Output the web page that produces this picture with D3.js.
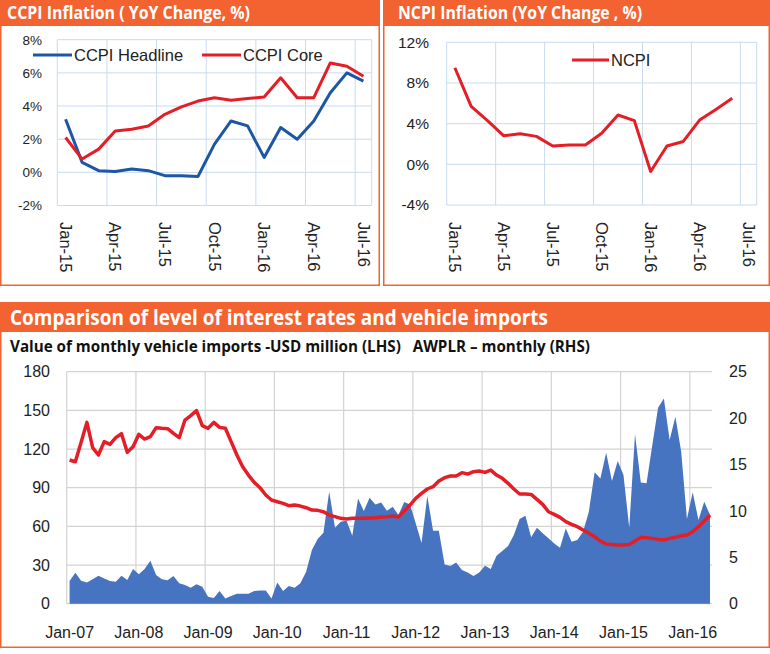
<!DOCTYPE html>
<html><head><meta charset="utf-8">
<script src="https://cdn.jsdelivr.net/npm/d3@7"></script>
<style>body{margin:0;background:#fff}</style>
</head><body><svg id="c" width="770" height="654"></svg>
<script>
// ---------- DATA ----------
const months19 = ["Jan-15","Feb-15","Mar-15","Apr-15","May-15","Jun-15","Jul-15","Aug-15","Sep-15","Oct-15","Nov-15","Dec-15","Jan-16","Feb-16","Mar-16","Apr-16","May-16","Jun-16","Jul-16"];
const monthTickLabels = ["Jan-15","Apr-15","Jul-15","Oct-15","Jan-16","Apr-16","Jul-16"];
const ccpiHeadline = [3.2,0.6,0.1,0.05,0.2,0.1,-0.2,-0.2,-0.25,1.7,3.1,2.8,0.9,2.7,2.0,3.1,4.8,6.0,5.5];
const ccpiCore     = [2.1,0.8,1.4,2.5,2.6,2.8,3.5,3.95,4.3,4.5,4.35,4.45,4.55,5.7,4.5,4.5,6.6,6.4,5.8];
const ncpi         = [9.5,5.7,4.3,2.8,3.0,2.75,1.8,1.9,1.9,3.05,4.85,4.3,-0.7,1.8,2.25,4.35,5.4,6.5];
const ccpiTicks = [-2,0,2,4,6,8];
const ncpiTicks = [-4,0,4,8,12];

const importStart = new Date(2007,0,1), importEnd = new Date(2016,4,1);
const importYearLabels = ["Jan-07","Jan-08","Jan-09","Jan-10","Jan-11","Jan-12","Jan-13","Jan-14","Jan-15","Jan-16"];
const vehicleImports = [17.6,24,17.8,16.5,19,21.7,19.6,17.6,17,21.7,18.4,27,
 22.8,27,33.4,22.2,18.9,18.1,21.5,15.8,14.5,12.4,15,13.2,
 5.4,4.4,9.8,4.1,6,7.8,7.8,7.8,9.8,10.3,10.3,4.1,
 16.5,9.8,13.7,12.4,15.8,24.8,41.6,50.2,55,87,59,63.6,
 64.4,52.8,81.7,71.9,82.2,77,78.6,72.1,75.2,68.8,79,77,
 62.3,47,83.5,56.6,56.6,30.5,29.2,32,26.1,24.3,21.5,24.3,
 29.5,26.9,37.2,40.9,44.7,53.3,65.7,68.3,51.5,59,54.6,50.7,
 46.8,43.4,58.4,48.1,49.4,55.9,71.4,101.9,97.2,117.1,95.2,110.7,
 99.8,59,131.6,94.1,93.4,123.1,152,159.3,127,145,118,65.7,
 86.4,64.9,79.1,68.8];
const awplr = [15.48,15.3,17.4,19.54,16.81,16.02,17.46,17.17,17.89,18.32,16.31,16.92,
 18.25,17.74,18.0,18.97,18.9,18.86,18.36,17.89,19.79,20.26,20.8,19.18,
 18.9,19.54,19.0,18.9,17.46,16.02,14.76,13.86,13.07,12.5,11.71,11.17,
 10.99,10.81,10.56,10.63,10.52,10.34,10.09,10.06,9.91,9.55,9.38,9.2,
 9.12,9.2,9.2,9.2,9.23,9.27,9.34,9.38,9.45,9.34,10.0,10.63,
 11.35,11.89,12.36,12.61,13.22,13.58,13.76,13.76,14.12,13.97,14.22,14.3,
 14.15,14.4,13.86,13.51,12.97,12.36,11.82,11.82,11.78,11.24,10.7,9.91,
 9.63,9.3,8.84,8.55,8.3,7.94,7.58,7.22,6.75,6.43,6.39,6.32,
 6.32,6.39,6.75,7.15,7.11,7.04,6.93,6.86,7.04,7.15,7.33,7.4,
 7.76,8.3,8.91,9.55];
const lhsTicks = [0,30,60,90,120,150,180];
const rhsTicks = [0,5,10,15,20,25];

// ---------- STYLE ----------
const ORANGE = "#f26331", BLUE_LINE = "#1d56a3", RED = "#e31e27", AREA = "#4674c1";
const GRID_TOP = "#c9dbef", GRID_BOT = "#d3d3d3";
const FONT = "'Liberation Sans', Arial, sans-serif";
const TFONT = "'Open Sans', 'Liberation Sans', sans-serif";

const svg = d3.select("#c");

function panel(x, y, w, h, hh, title, tx, tw, fs) {
  svg.append("rect").attr("x", x+0.75).attr("y", y+0.75).attr("width", w-1.5).attr("height", h-1.5)
    .attr("fill", "#fff").attr("stroke", ORANGE).attr("stroke-width", 1.5);
  svg.append("rect").attr("x", x).attr("y", y).attr("width", w).attr("height", hh).attr("fill", ORANGE);
  svg.append("text").attr("x", tx).attr("y", y + hh/2).attr("dy", "0.36em")
    .attr("font-family", TFONT).attr("font-weight", "bold").attr("font-size", fs)
    .attr("fill", "#fff").attr("textLength", tw).attr("lengthAdjust", "spacingAndGlyphs").text(title);
}

panel(0, 0, 380, 286, 26, "CCPI Inflation ( YoY Change, %)", 7, 243, 17.5);
panel(383, 0, 387, 286, 26, "NCPI Inflation (YoY Change , %)", 398, 244, 17.5);
panel(0, 302, 770, 346, 30, "Comparison of level of interest rates and vehicle imports", 10, 538, 21);

// ---------- small inflation charts ----------
function smallChart(opt) {
  const g = svg.append("g");
  const x = d3.scaleBand().domain(months19).range([opt.x0, opt.x1]);
  const y = d3.scaleLinear().domain(opt.ydom).range([opt.yb, opt.yt]);
  g.selectAll(".hg").data(opt.ticks).enter().append("line")
    .attr("x1", opt.x0).attr("x2", opt.x1).attr("y1", d => y(d)).attr("y2", d => y(d))
    .attr("stroke", GRID_TOP).attr("stroke-width", 1);
  const vIdx = months19.map((m,i)=>i).filter(i => i % 3 === 0);
  g.selectAll(".vg").data(vIdx).enter().append("line")
    .attr("x1", i => x(months19[i])).attr("x2", i => x(months19[i]))
    .attr("y1", opt.yt).attr("y2", opt.yb).attr("stroke", GRID_TOP).attr("stroke-width", 1);
  g.append("line").attr("x1", opt.x1).attr("x2", opt.x1).attr("y1", opt.yt).attr("y2", opt.yb)
    .attr("stroke", GRID_TOP).attr("stroke-width", 1);
  const ya = g.append("g").attr("transform", `translate(${opt.ylabX},0)`)
    .call(d3.axisLeft(y).tickValues(opt.ticks).tickSize(0).tickPadding(0).tickFormat(d => d + "%"));
  ya.select(".domain").remove();
  ya.selectAll("text").attr("font-family", FONT).attr("font-size", opt.yfs).attr("fill", "#222");
  const xa = g.append("g").attr("transform", `translate(0,${opt.xlabY})`)
    .call(d3.axisBottom(x).tickValues(monthTickLabels).tickSize(0).tickPadding(0));
  xa.select(".domain").remove();
  xa.selectAll("text").attr("font-family", FONT).attr("font-size", 16.5).attr("fill", "#222")
    .attr("transform", "rotate(90)").attr("text-anchor", "start").attr("x", 0).attr("y", 0).attr("dy", "0.35em");
  const line = d3.line().x((d,i) => x(months19[i]) + x.bandwidth()/2).y(d => y(d));
  opt.series.forEach(s => {
    g.append("path").datum(s.values).attr("d", line).attr("fill", "none")
      .attr("stroke", s.color).attr("stroke-width", 3).attr("stroke-linejoin", "round");
  });
  opt.legend.forEach(l => {
    g.append("line").attr("x1", l.x).attr("x2", l.x + l.len).attr("y1", l.y).attr("y2", l.y)
      .attr("stroke", l.color).attr("stroke-width", 3);
    g.append("text").attr("x", l.x + l.len + 2).attr("y", l.y).attr("dy", "0.36em")
      .attr("font-family", FONT).attr("font-size", 16.5).attr("fill", "#222").text(l.label);
  });
}

smallChart({
  x0: 57.3, x1: 371.7, yt: 39.7, yb: 205.5, ydom: [-2, 8], ticks: ccpiTicks,
  ylabX: 42, yfs: 13.5, xlabY: 222,
  series: [{values: ccpiHeadline, color: BLUE_LINE}, {values: ccpiCore, color: RED}],
  legend: [{x: 33, len: 39, y: 55, color: BLUE_LINE, label: "CCPI Headline"},
           {x: 202, len: 39, y: 55, color: RED, label: "CCPI Core"}]
});
smallChart({
  x0: 446.7, x1: 756.7, yt: 42.3, yb: 205, ydom: [-4, 12], ticks: ncpiTicks,
  ylabX: 429, yfs: 15.5, xlabY: 222,
  series: [{values: ncpi, color: RED}],
  legend: [{x: 572, len: 37, y: 60, color: RED, label: "NCPI"}]
});

// ---------- bottom chart ----------
svg.append("text").attr("x", 10).attr("y", 346).attr("dy", "0.36em")
  .attr("font-family", TFONT).attr("font-weight", "bold").attr("font-size", 15.5).attr("fill", "#111")
  .attr("textLength", 580).attr("lengthAdjust", "spacingAndGlyphs")
  .text("Value of monthly vehicle imports -USD million (LHS)\u00a0\u00a0\u00a0AWPLR \u2013 monthly (RHS)");

const dates = d3.timeMonth.range(importStart, importEnd);
const fmt = d3.timeFormat("%b-%y");
const bx = d3.scaleBand().domain(dates.map(fmt)).range([66.7, 712.9]);
const yL = d3.scaleLinear().domain([0, 180]).range([603.7, 371.7]);
const yR = d3.scaleLinear().domain([0, 25]).range([603.7, 371.7]);
const bg = svg.append("g");
bg.selectAll(".hg").data(lhsTicks).enter().append("line")
  .attr("x1", 66.7).attr("x2", 712).attr("y1", d => yL(d)).attr("y2", d => yL(d))
  .attr("stroke", GRID_BOT).attr("stroke-width", 1.2);
bg.selectAll(".vg").data(importYearLabels).enter().append("line")
  .attr("x1", d => bx(d)).attr("x2", d => bx(d)).attr("y1", yL(180)).attr("y2", yL(0))
  .attr("stroke", GRID_BOT).attr("stroke-width", 1.2);
const cx = (d,i) => bx(fmt(dates[i])) + bx.bandwidth()/2;
bg.append("path").datum(vehicleImports)
  .attr("d", d3.area().x(cx).y0(yL(0)).y1(d => yL(d))).attr("fill", AREA);
bg.append("path").datum(awplr)
  .attr("d", d3.line().x(cx).y(d => yR(d))).attr("fill", "none")
  .attr("stroke", RED).attr("stroke-width", 3.5).attr("stroke-linejoin", "round");
const la = bg.append("g").attr("transform", "translate(50,0)")
  .call(d3.axisLeft(yL).tickValues(lhsTicks).tickSize(0).tickPadding(0));
la.select(".domain").remove();
la.selectAll("text").attr("font-family", FONT).attr("font-size", 16).attr("fill", "#222");
const ra = bg.append("g").attr("transform", "translate(729,0)")
  .call(d3.axisRight(yR).tickValues(rhsTicks).tickSize(0).tickPadding(0));
ra.select(".domain").remove();
ra.selectAll("text").attr("font-family", FONT).attr("font-size", 16).attr("fill", "#222");
const xb = bg.append("g").attr("transform", "translate(0,632)")
  .call(d3.axisBottom(bx).tickValues(importYearLabels).tickSize(0).tickPadding(0));
xb.select(".domain").remove();
xb.selectAll("text").attr("font-family", FONT).attr("font-size", 16).attr("fill", "#222").attr("dy", "0.36em");
</script></body></html>
